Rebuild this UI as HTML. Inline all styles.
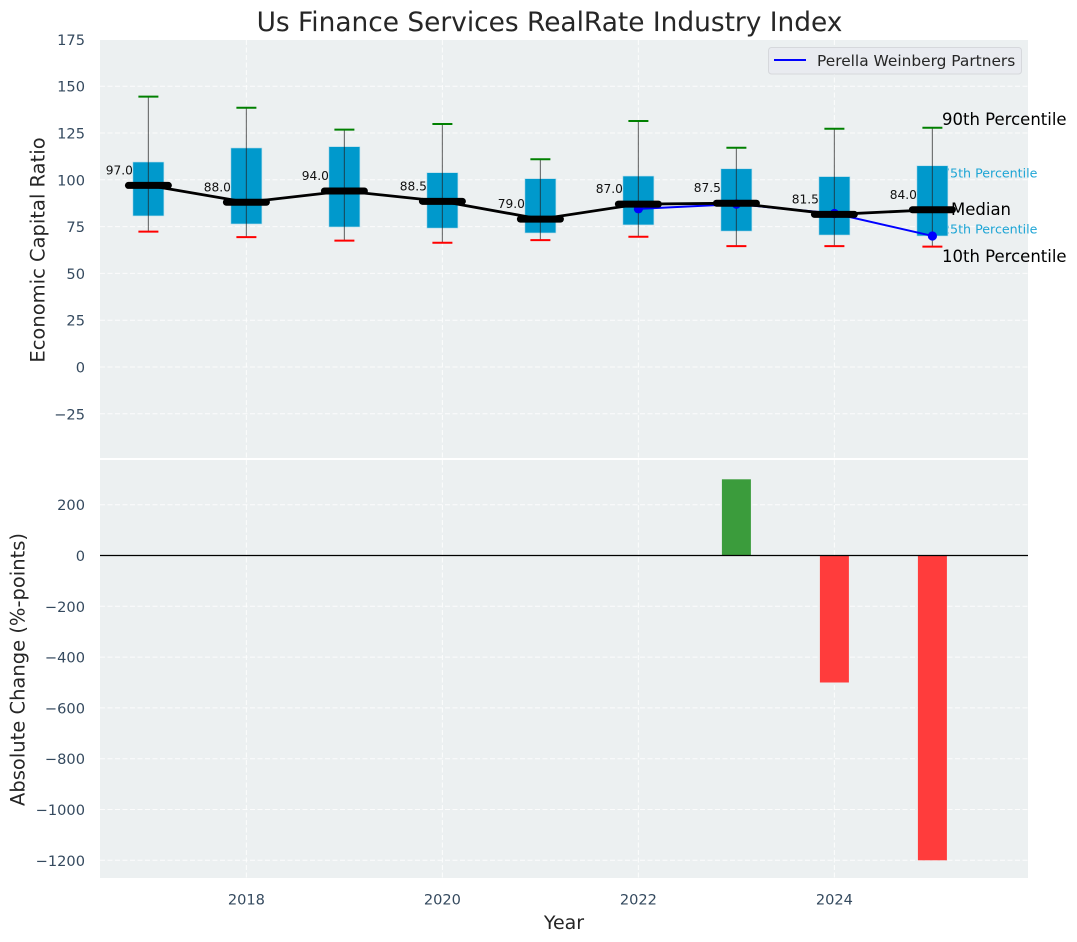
<!DOCTYPE html>
<html>
<head>
<meta charset="utf-8">
<title>Us Finance Services RealRate Industry Index</title>
<style>
html,body{margin:0;padding:0;background:#fff;}
svg{display:block;font-family:"DejaVu Sans","Liberation Sans",sans-serif;}
</style>
</head>
<body>
<svg id="chart" xmlns="http://www.w3.org/2000/svg" width="1077" height="942" viewBox="0 0 1077 942"></svg>
<script>
const years = [2017, 2018, 2019, 2020, 2021, 2022, 2023, 2024, 2025];
const p90 = [144.4, 138.5, 126.8, 129.8, 111, 131.4, 117.1, 127.3, 127.8];
const p75 = [109.5, 117, 117.7, 103.8, 100.6, 102, 105.9, 101.7, 107.5];
const median = [97, 88, 94, 88.5, 79, 87, 87.5, 81.5, 84];
const p25 = [80.7, 76.4, 74.8, 74.2, 71.6, 75.9, 72.6, 70.5, 70];
const p10 = [72.3, 69.4, 67.5, 66.4, 67.8, 69.6, 64.6, 64.6, 64.3];
const companyYears = [2022, 2023, 2024, 2025];
const companyValues = [84.5, 87, 82, 70];
const changeYears = [2023, 2024, 2025];
const changeValues = [300, -500, -1200];
const xTickValues = [2018, 2020, 2022, 2024];
const topTickValues = [175, 150, 125, 100, 75, 50, 25, 0, -25];
const bottomTickValues = [200, 0, -200, -400, -600, -800, -1000, -1200];

const svg = document.getElementById('chart');
const NS = 'http://www.w3.org/2000/svg';
const xS = v => 246.4 + (v - 2018) * 98;
const yTop = v => 367 - v * 1.872;
const yBot = v => 555.5 - v * 0.254;
const fmt = v => String(v).replace('-', '\u2212');
function mk(tag, attrs, text) {
  const el = document.createElementNS(NS, tag);
  for (const k in attrs) el.setAttribute(k, attrs[k]);
  if (text !== undefined) el.textContent = text;
  svg.appendChild(el);
  return el;
}
const TICK = '#34495e', INK = '#262626', BLUEBOX = '#0099cc';

let e = mk('rect', {x: 100, y: 40, width: 928, height: 418, fill: '#ecf0f1'});


e = mk('rect', {x: 100, y: 460, width: 928, height: 418, fill: '#ecf0f1'});



// grid
const gridStyle = {stroke: '#fff', 'stroke-width': 1, 'stroke-dasharray': '5 2.5', opacity: 0.85};
topTickValues.forEach(v => {
  if (v === 175) return;
  const g = mk('line', Object.assign({x1: 100, x2: 1028, y1: yTop(v), y2: yTop(v)}, gridStyle));
  
  
});
bottomTickValues.forEach(v => {
  const g = mk('line', Object.assign({x1: 100, x2: 1028, y1: yBot(v), y2: yBot(v)}, gridStyle));
  
  
});
xTickValues.forEach(v => {
  let g = mk('line', Object.assign({x1: xS(v), x2: xS(v), y1: 40, y2: 458}, gridStyle));
  
  
  g = mk('line', Object.assign({x1: xS(v), x2: xS(v), y1: 460, y2: 878}, gridStyle));
  
  
});

// percentile annotations (under the boxes)
e = mk('text', {x: 942, y: 125, 'font-size': 16.5, fill: '#000'}, '90th Percentile');


e = mk('text', {x: 942, y: 177.5, 'font-size': 12.65, fill: '#1ea5d5'}, '75th Percentile');


e = mk('text', {x: 951, y: 215, 'font-size': 16.5, fill: '#000'}, 'Median');


e = mk('text', {x: 942, y: 233.5, 'font-size': 12.65, fill: '#1ea5d5'}, '25th Percentile');


e = mk('text', {x: 942, y: 262, 'font-size': 16.5, fill: '#000'}, '10th Percentile');



// median value labels
years.forEach((yr, i) => {
  const t = mk('text', {x: xS(yr) - 15.5, y: yTop(median[i]) - 11, 'font-size': 12.2, fill: '#111', 'text-anchor': 'end'}, median[i].toFixed(1));
  
  
});

// boxes
years.forEach((yr, i) => {
  const b = mk('rect', {x: xS(yr) - 15.5, y: yTop(p75[i]), width: 31, height: yTop(p25[i]) - yTop(p75[i]), fill: BLUEBOX, stroke: '#b5dcea', 'stroke-width': 0.6});
  
  
});

// whiskers
years.forEach((yr, i) => {
  let w = mk('line', {x1: xS(yr), x2: xS(yr), y1: yTop(p90[i]), y2: yTop(p10[i]), stroke: '#222', 'stroke-opacity': 0.6, 'stroke-width': 1.2});
  
  
  w = mk('line', {x1: xS(yr) - 10, x2: xS(yr) + 10, y1: yTop(p90[i]), y2: yTop(p90[i]), stroke: '#008000', 'stroke-width': 2});
  
  
  w = mk('line', {x1: xS(yr) - 10, x2: xS(yr) + 10, y1: yTop(p10[i]), y2: yTop(p10[i]), stroke: '#ff0000', 'stroke-width': 2});
  
  
});

// company series
e = mk('polyline', {points: companyYears.map((yr, i) => xS(yr) + ',' + yTop(companyValues[i])).join(' '), fill: 'none', stroke: '#0000ff', 'stroke-width': 2});


companyYears.forEach((yr, i) => {
  const c = mk('circle', {cx: xS(yr), cy: yTop(companyValues[i]), r: 4.6, fill: '#0000ff'});
  
  
});

// median line and thick markers
e = mk('polyline', {points: years.map((yr, i) => xS(yr) + ',' + yTop(median[i])).join(' '), fill: 'none', stroke: '#000', 'stroke-width': 2.8});


years.forEach((yr, i) => {
  const m = mk('line', {x1: xS(yr) - 20, x2: xS(yr) + 20, y1: yTop(median[i]), y2: yTop(median[i]), stroke: '#000', 'stroke-width': 7, 'stroke-linecap': 'round'});
  
  
});

// change bars
changeYears.forEach((yr, i) => {
  const v = changeValues[i];
  const top = Math.min(yBot(v), yBot(0));
  const h = Math.abs(yBot(v) - yBot(0));
  const b = mk('rect', {x: xS(yr) - 14.5, y: top, width: 29, height: h, fill: v >= 0 ? '#3b9c3c' : '#ff3c3c'});
  
  
});
e = mk('line', {x1: 100, x2: 1028, y1: yBot(0), y2: yBot(0), stroke: '#000', 'stroke-width': 1.2});



// tick labels
topTickValues.forEach(v => {
  const t = mk('text', {x: 85, y: yTop(v) + 5.5, 'font-size': 14.6, fill: TICK, 'text-anchor': 'end'}, fmt(v));
  
  
});
bottomTickValues.forEach(v => {
  const t = mk('text', {x: 85, y: yBot(v) + 5.5, 'font-size': 14.6, fill: TICK, 'text-anchor': 'end'}, fmt(v));
  
  
});
xTickValues.forEach(v => {
  const t = mk('text', {x: xS(v), y: 904.5, 'font-size': 14.6, fill: TICK, 'text-anchor': 'middle'}, String(v));
  
  
});

// titles
e = mk('text', {x: 549.5, y: 31, 'font-size': 26.4, fill: INK, 'text-anchor': 'middle'}, 'Us Finance Services RealRate Industry Index');


e = mk('text', {x: 564, y: 929, 'font-size': 19, fill: INK, 'text-anchor': 'middle'}, 'Year');


e = mk('text', {x: 0, y: 0, 'font-size': 19.5, fill: INK, 'text-anchor': 'middle', transform: 'translate(44.5,250) rotate(-90)'}, 'Economic Capital Ratio');


e = mk('text', {x: 0, y: 0, 'font-size': 19.5, fill: INK, 'text-anchor': 'middle', transform: 'translate(24.5,669.5) rotate(-90)'}, 'Absolute Change (%-points)');



// legend
e = mk('rect', {x: 768.5, y: 47.5, width: 253, height: 26.5, rx: 3, fill: '#e9ebf0', stroke: '#d6d8dc', 'stroke-width': 1});


e = mk('line', {x1: 774, x2: 806, y1: 60, y2: 60, stroke: '#0000ff', 'stroke-width': 2});


e = mk('text', {x: 817, y: 66, 'font-size': 15.4, fill: INK}, 'Perella Weinberg Partners');


</script>
</body>
</html>
